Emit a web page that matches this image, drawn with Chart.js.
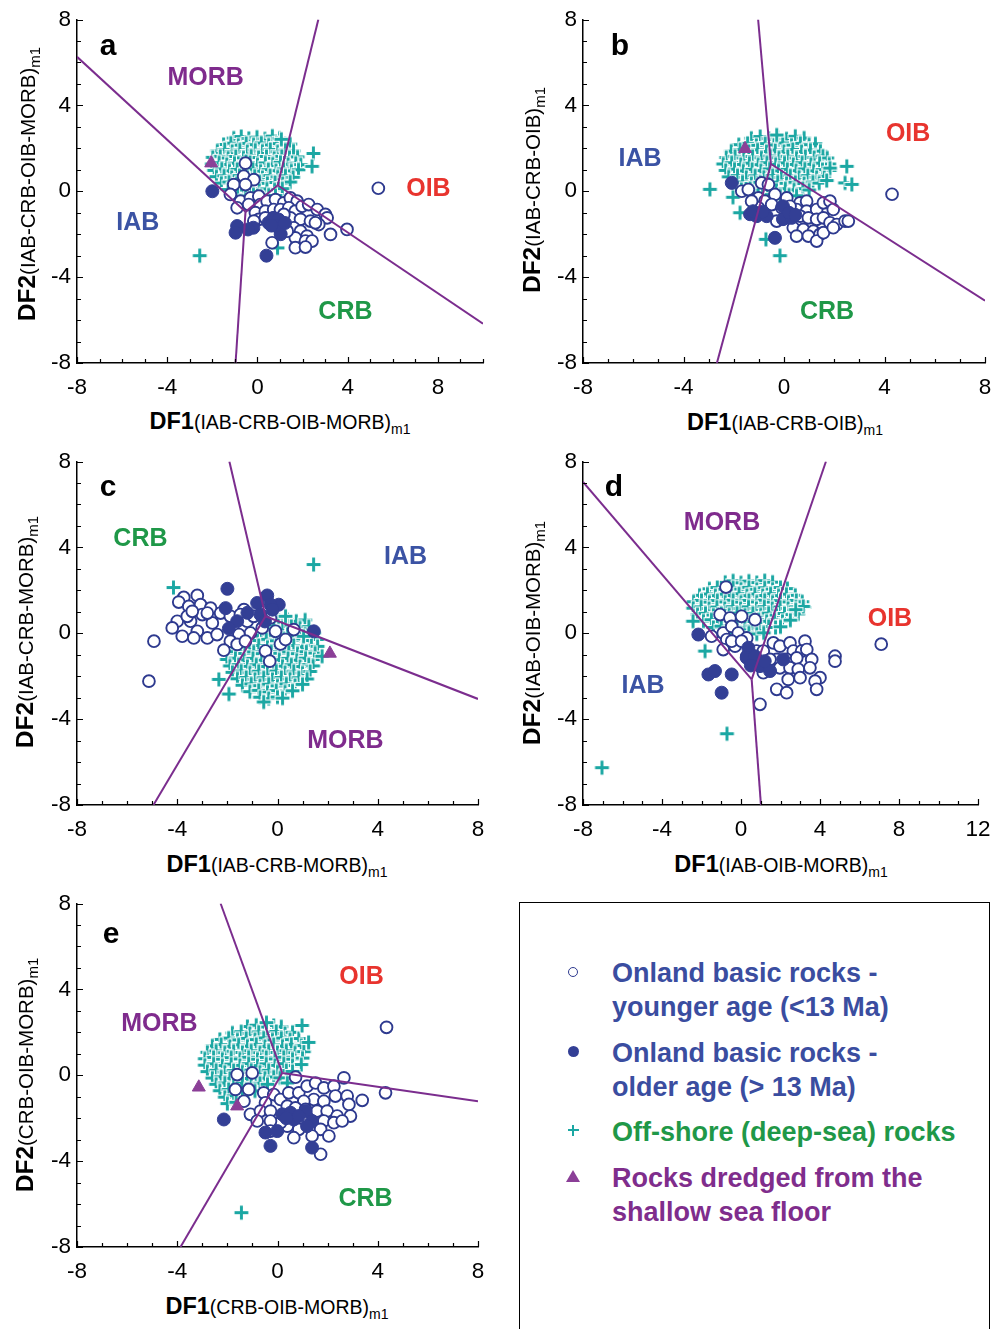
<!DOCTYPE html>
<html>
<head>
<meta charset="utf-8">
<script src="https://cdn.jsdelivr.net/npm/chart.js@4.4.0/dist/chart.umd.min.js"></script>
<style>
  body { margin: 0; background: #fff; font-family: "Liberation Sans", Arial, sans-serif; }
  #page { position: relative; width: 1006px; height: 1329px; overflow: hidden; }
  canvas { position: absolute; }
  .ttl { position: absolute; white-space: nowrap; color: #000; transform: translate(-50%, -50%); }
  .ttl.rot { transform: translate(-50%, -50%) rotate(-90deg); }
  .ttl b { font-size: 23.5px; font-weight: bold; }
  .ttl .p { font-size: 19.5px; }
  .ttl .s { font-size: 14px; position: relative; top: 5px; }
  .ttl.rot b { font-size: 24.5px; }
  .ttl.rot .p { font-size: 20.5px; }
  .ttl.rot .s { font-size: 15px; }
  #legend { position: absolute; left: 519px; top: 902px; width: 469px; height: 460px; border: 1.5px solid #000; }
  .lt { position: absolute; left: 612px; font-weight: bold; font-size: 27px; line-height: 34px; white-space: nowrap; }
  .mk { position: absolute; }
</style>
</head>
<body>
<div id="page">
  <canvas id="pa"></canvas>
  <canvas id="pb"></canvas>
  <canvas id="pc"></canvas>
  <canvas id="pd"></canvas>
  <canvas id="pe"></canvas>

  <div class="ttl" style="left:280px;top:421px"><b>DF1</b><span class="p">(IAB-CRB-OIB-MORB)</span><span class="s">m1</span></div>
  <div class="ttl rot" style="left:27px;top:184px"><b>DF2</b><span class="p">(IAB-CRB-OIB-MORB)</span><span class="s">m1</span></div>
  <div class="ttl" style="left:785px;top:422px"><b>DF1</b><span class="p">(IAB-CRB-OIB)</span><span class="s">m1</span></div>
  <div class="ttl rot" style="left:532px;top:190px"><b>DF2</b><span class="p">(IAB-CRB-OIB)</span><span class="s">m1</span></div>
  <div class="ttl" style="left:277px;top:864px"><b>DF1</b><span class="p">(IAB-CRB-MORB)</span><span class="s">m1</span></div>
  <div class="ttl rot" style="left:25px;top:632px"><b>DF2</b><span class="p">(IAB-CRB-MORB)</span><span class="s">m1</span></div>
  <div class="ttl" style="left:781px;top:864px"><b>DF1</b><span class="p">(IAB-OIB-MORB)</span><span class="s">m1</span></div>
  <div class="ttl rot" style="left:532px;top:633px"><b>DF2</b><span class="p">(IAB-OIB-MORB)</span><span class="s">m1</span></div>
  <div class="ttl" style="left:277px;top:1306px"><b>DF1</b><span class="p">(CRB-OIB-MORB)</span><span class="s">m1</span></div>
  <div class="ttl rot" style="left:25px;top:1075px"><b>DF2</b><span class="p">(CRB-OIB-MORB)</span><span class="s">m1</span></div>

  <div id="legend"></div>
  <div class="mk" style="left:567.5px;top:966.5px;width:8px;height:8px;border:1.5px solid #2e3a8f;border-radius:50%;background:#fff"></div>
  <div class="lt" style="top:956px;color:#3a4da0">Onland basic rocks -<br>younger age (&lt;13 Ma)</div>
  <div class="mk" style="left:567.5px;top:1045.5px;width:11px;height:11px;border-radius:50%;background:#333f95"></div>
  <div class="lt" style="top:1036px;color:#3a4da0">Onland basic rocks -<br>older age (&gt; 13 Ma)</div>
  <div class="mk" style="left:567.5px;top:1128.7px;width:11px;height:2.6px;background:#1ba7a3"></div>
  <div class="mk" style="left:571.7px;top:1124.5px;width:2.6px;height:11px;background:#1ba7a3"></div>
  <div class="lt" style="top:1115px;color:#1f9848">Off-shore (deep-sea) rocks</div>
  <div class="mk" style="left:566px;top:1170px;width:0;height:0;border-left:7px solid transparent;border-right:7px solid transparent;border-bottom:12px solid #8b3f97"></div>
  <div class="lt" style="top:1161px;color:#7f2d8c">Rocks dredged from the<br>shallow sea floor</div>
</div>

<script>
// ---- panel a : DF1/DF2 (IAB-CRB-OIB-MORB) ----
const aTicksX = [-8, -4, 0, 4, 8];
const aTicksY = [-8, -4, 0, 4, 8];
const aOffshore = [
  [-1.05,2.48],[-0.72,2.55],[-0.38,2.46],[-0.02,2.52],[0.33,2.44],[0.66,2.57],[0.98,2.47],
  [-1.5,2.18],[-1.18,2.24],[-0.85,2.15],[-0.5,2.23],[-0.17,2.17],[0.17,2.25],[0.5,2.16],[0.84,2.22],[1.18,2.14],[1.45,2.2],
  [-1.78,1.88],[-1.45,1.95],[-1.12,1.86],[-0.78,1.93],[-0.45,1.85],[-0.1,1.92],[0.22,1.87],[0.57,1.95],[0.9,1.84],[1.24,1.92],[1.6,1.88],
  [-1.98,1.58],[-1.65,1.63],[-1.3,1.55],[-0.96,1.62],[-0.62,1.56],[-0.28,1.64],[0.05,1.57],[0.4,1.62],[0.74,1.54],[1.08,1.63],[1.42,1.57],[1.78,1.6],
  [-2.02,1.27],[-1.7,1.33],[-1.36,1.25],[-1.02,1.31],[-0.68,1.26],[-0.33,1.34],[0.0,1.24],[0.35,1.32],[0.68,1.27],[1.02,1.35],[1.36,1.26],[1.7,1.31],[1.92,1.24],
  [-1.92,0.97],[-1.58,1.04],[-1.24,0.95],[-0.9,1.02],[-0.55,0.96],[-0.2,1.03],[0.14,0.94],[0.48,1.01],[0.82,0.96],[1.16,1.04],[1.5,0.95],[1.82,1.0],
  [-1.82,0.68],[-1.48,0.72],[-1.14,0.65],[-0.8,0.73],[-0.45,0.66],[-0.12,0.71],[0.22,0.64],[0.56,0.73],[0.9,0.67],[1.24,0.72],[1.58,0.65],
  [-1.6,0.38],[-1.26,0.43],[-0.92,0.36],[-0.58,0.42],[-0.24,0.35],[0.1,0.44],[0.44,0.37],[0.78,0.41],[1.12,0.36],[1.45,0.43],
  [-1.3,0.08],[-0.95,0.13],[-0.6,0.06],[-0.26,0.12],[0.08,0.05],[0.42,0.11],[0.76,0.07],[1.1,0.12],
  [-0.88,-0.18],[-0.52,-0.22],[-0.18,-0.16],[0.16,-0.23],[0.5,-0.17],[0.8,-0.2],
  [2.48,1.76],[2.42,1.16],[-2.56,-3.0],[1.06,2.42],[0.89,-2.64]
];
const aYounger = [
  [-0.53,1.31],[-0.61,0.70],[-0.16,0.54],[-1.05,0.31],[-0.53,0.31],[-1.20,-0.15],[-0.75,-0.46],[-0.31,-0.31],
  [0.06,-0.23],[-0.90,-0.77],[-0.39,-0.62],[0.13,-0.62],[0.43,-0.46],[0.80,-0.39],[1.17,-0.54],[1.46,-0.31],
  [1.76,-0.46],[-0.09,-1.0],[0.35,-0.93],[0.72,-0.85],[1.02,-0.85],[1.39,-0.77],[1.68,-0.93],[1.98,-0.70],
  [2.27,-0.62],[2.65,-0.85],[3.01,-1.08],[3.09,-1.24],[1.46,-1.24],[1.91,-1.31],[2.35,-1.39],[2.72,-1.55],
  [0.06,-1.31],[0.35,-1.24],[1.61,-1.70],[1.91,-1.86],[2.20,-2.09],[2.57,-1.47],[3.24,-2.01],[3.97,-1.78],
  [1.68,-2.17],[2.13,-2.32],[2.42,-2.32],[1.68,-2.63],[2.13,-2.60],[0.65,-2.40],[1.32,-1.86],[0.87,-1.55],
  [0.72,-1.24],[1.17,-1.08],[-0.16,-1.39],[5.36,0.14]
];
const aOlder = [
  [-2.0,0.0],[-0.9,-1.62],[-0.97,-1.93],[-0.18,-1.7],[-0.42,-1.78],[0.49,-1.47],[0.7,-1.25],
  [0.94,-1.32],[1.03,-2.0],[0.4,-3.0],[0.8,-1.6],[1.22,-1.48],[0.62,-1.6]
];
const aDredged = [[-2.05,1.31]];
const aBounds = [
  [-8,6.26,-0.53,-0.96],[-0.53,-0.96,-0.97,-8],[-0.53,-0.96,0.9,0.28],[0.9,0.28,2.7,8],[0.9,0.28,10,-6.17]
];
const aFields = [['MORB',-2.3,5.33],['OIB',7.58,0.14],['IAB',-5.3,-1.42],['CRB',3.9,-5.6]];

// ---- panel b : DF1/DF2 (IAB-CRB-OIB) ----
const bTicksX = [-8, -4, 0, 4, 8];
const bTicksY = [-8, -4, 0, 4, 8];
const bOffshore = [
  [-1.3,2.47],[-0.95,2.55],[-0.6,2.45],[-0.25,2.52],[0.1,2.44],[0.45,2.56],[0.8,2.48],
  [-1.8,2.17],[-1.45,2.23],[-1.1,2.14],[-0.75,2.22],[-0.4,2.16],[-0.05,2.25],[0.3,2.15],[0.65,2.23],[1.0,2.17],[1.25,2.21],
  [-2.1,1.87],[-1.75,1.94],[-1.4,1.86],[-1.05,1.93],[-0.7,1.85],[-0.35,1.92],[0.0,1.86],[0.35,1.95],[0.7,1.85],[1.05,1.92],[1.45,1.87],
  [-2.3,1.57],[-1.95,1.63],[-1.6,1.55],[-1.25,1.62],[-0.9,1.56],[-0.55,1.64],[-0.2,1.56],[0.15,1.63],[0.5,1.55],[0.85,1.62],[1.2,1.57],[1.55,1.64],[1.72,1.55],
  [-2.42,1.27],[-2.08,1.33],[-1.72,1.25],[-1.38,1.31],[-1.03,1.24],[-0.68,1.33],[-0.33,1.26],[0.02,1.32],[0.37,1.25],[0.72,1.33],[1.07,1.26],[1.42,1.31],[1.8,1.27],
  [-2.32,0.97],[-1.97,1.03],[-1.62,0.95],[-1.27,1.02],[-0.92,0.96],[-0.57,1.04],[-0.22,0.95],[0.13,1.02],[0.48,0.96],[0.83,1.04],[1.18,0.95],[1.53,1.01],[1.82,0.97],
  [-2.2,0.67],[-1.85,0.73],[-1.5,0.65],[-1.15,0.72],[-0.8,0.66],[-0.45,0.73],[-0.1,0.64],[0.25,0.72],[0.6,0.66],[0.95,0.73],[1.3,0.65],[1.6,0.7],
  [-2.0,0.38],[-1.65,0.43],[-1.3,0.36],[-0.95,0.42],[-0.6,0.35],[-0.25,0.43],[0.1,0.37],[0.45,0.42],[0.8,0.36],[1.15,0.43],[1.4,0.38],
  [-1.7,0.08],[-1.35,0.13],[-1.0,0.06],[-0.65,0.12],[-0.3,0.05],[0.05,0.12],[0.4,0.07],[0.75,0.12],[1.0,0.06],
  [-1.2,-0.18],[-0.85,-0.23],[-0.5,-0.16],[-0.15,-0.22],[0.2,-0.17],[0.5,-0.21],
  [-2.95,0.09],[2.5,1.16],[2.43,0.39],[2.7,0.32],[-0.16,-3.0],[-0.72,-2.24],[-1.75,-1.0],[-2.03,-0.28],
  [-0.29,2.62],[1.83,1.08],[1.7,0.5]
];
const bYounger = [
  [-1.68,0.0],[-1.42,0.08],[-0.89,0.39],[-0.62,0.31],[-1.02,-0.31],[-0.76,-0.46],[-0.36,-0.15],[0.11,-0.31],
  [0.64,-0.54],[0.90,-0.46],[0.50,-0.85],[0.90,-0.93],[1.30,-0.85],[1.57,-0.54],[1.83,-0.46],[1.96,-0.85],
  [-0.49,-0.62],[-0.09,-0.77],[0.24,-0.70],[0.24,-1.24],[0.64,-1.16],[0.97,-1.24],[1.30,-1.31],[1.57,-1.24],
  [1.83,-1.47],[2.10,-1.55],[2.43,-1.39],[2.56,-1.39],[0.37,-1.70],[0.77,-1.78],[1.17,-1.86],[1.43,-2.01],
  [0.50,-2.09],[0.97,-2.09],[1.30,-2.32],[1.57,-1.93],[1.96,-1.70],[-0.29,-1.39],[-1.02,-0.77],[-1.29,-0.46],
  [4.3,-0.14]
];
const bOlder = [
  [-2.08,0.39],[-1.35,-1.07],[-1.09,-1.16],[-0.69,-1.16],[-1.23,-0.93],[-0.04,-0.7],[-0.04,-1.3],
  [0.3,-1.24],[0.2,-1.0],[-0.36,-2.17],[-0.85,-0.95],[0.45,-1.1]
];
const bDredged = [[-1.55,1.98]];
const bBounds = [[-0.52,1.27,-1.03,8],[-0.52,1.27,-2.67,-8],[-0.52,1.27,8,-5.1]];
const bFields = [['IAB',-5.73,1.53],['OIB',4.94,2.69],['CRB',1.71,-5.6]];

// ---- panel c : DF1/DF2 (IAB-CRB-MORB) ----
const cTicksX = [-8, -4, 0, 4, 8];
const cTicksY = [-8, -4, 0, 4, 8];
const cOffshore = [
  [0.05,0.58],[0.4,0.63],[0.75,0.56],[1.1,0.62],
  [-0.5,0.27],[-0.15,0.33],[0.2,0.26],[0.55,0.32],[0.9,0.25],[1.25,0.31],
  [-1.0,-0.03],[-0.65,0.03],[-0.3,-0.04],[0.05,0.02],[0.4,-0.05],[0.75,0.03],[1.1,-0.04],[1.45,0.01],
  [-1.5,-0.33],[-1.15,-0.27],[-0.8,-0.34],[-0.45,-0.28],[-0.1,-0.35],[0.25,-0.27],[0.6,-0.33],[0.95,-0.26],[1.3,-0.34],[1.58,-0.29],
  [-1.8,-0.62],[-1.45,-0.56],[-1.1,-0.64],[-0.75,-0.57],[-0.4,-0.65],[-0.05,-0.56],[0.3,-0.63],[0.65,-0.57],[1.0,-0.64],[1.35,-0.56],[1.6,-0.61],
  [-2.0,-0.92],[-1.65,-0.86],[-1.3,-0.94],[-0.95,-0.87],[-0.6,-0.95],[-0.25,-0.86],[0.1,-0.93],[0.45,-0.87],[0.8,-0.95],[1.15,-0.86],[1.5,-0.92],
  [-2.02,-1.22],[-1.68,-1.16],[-1.33,-1.24],[-0.98,-1.17],[-0.63,-1.25],[-0.28,-1.16],[0.07,-1.23],[0.42,-1.17],[0.77,-1.25],[1.12,-1.16],[1.47,-1.22],
  [-1.9,-1.52],[-1.55,-1.46],[-1.2,-1.54],[-0.85,-1.47],[-0.5,-1.55],[-0.15,-1.46],[0.2,-1.53],[0.55,-1.47],[0.9,-1.55],[1.25,-1.46],[1.42,-1.52],
  [-1.8,-1.82],[-1.45,-1.76],[-1.1,-1.84],[-0.75,-1.77],[-0.4,-1.85],[-0.05,-1.76],[0.3,-1.83],[0.65,-1.77],[1.0,-1.85],[1.3,-1.78],
  [-1.6,-2.12],[-1.25,-2.06],[-0.9,-2.14],[-0.55,-2.07],[-0.2,-2.15],[0.15,-2.06],[0.5,-2.13],[0.85,-2.07],[1.18,-2.13],
  [-1.4,-2.42],[-1.05,-2.36],[-0.7,-2.44],[-0.35,-2.37],[0.0,-2.45],[0.35,-2.36],[0.7,-2.43],[1.0,-2.38],
  [-1.1,-2.72],[-0.75,-2.66],[-0.4,-2.74],[-0.05,-2.67],[0.3,-2.73],[0.6,-2.68],
  [-0.7,-2.98],[-0.35,-3.04],[0.0,-2.97],[0.2,-3.02],
  [-4.15,2.13],[1.44,3.2],[-2.34,-2.15],[-1.94,-2.83],[-0.55,-3.2],[1.78,-1.07],[0.32,0.79],[1.04,-0.14]
];
const cYounger = [
  [-3.74,1.67],[-3.20,1.76],[-3.94,1.45],[-3.54,1.25],[-3.07,1.33],[-2.67,1.17],[-4.0,0.56],[-4.2,0.25],
  [-3.8,-0.14],[-3.47,0.56],[-3.2,0.09],[-3.0,0.87],[-2.6,0.48],[-2.8,-0.22],[-2.41,-0.06],[-3.34,-0.22],
  [-2.27,0.94],[-1.88,0.79],[-1.34,1.10],[-1.48,0.87],[-1.21,0.56],[-1.08,0.01],[-1.54,-0.06],[-0.95,0.79],
  [-1.88,-0.37],[-1.61,-0.52],[-1.28,-0.37],[-2.14,-0.79],[-0.48,-0.83],[-0.31,-1.30],[0.12,-0.50],[-0.08,0.09],
  [0.65,0.17],[0.32,-0.29],[-0.61,0.25],[-0.28,0.71],[-3.6,0.79],[-2.8,0.94],[-3.4,1.02],
  [-4.93,-0.37],[-5.13,-2.23]
];
const cOlder = [
  [-2.0,2.07],[-0.41,1.76],[0.05,1.33],[-0.81,1.41],[-2.07,1.17],[-1.61,0.56],[-1.94,0.22],
  [-0.68,0.87],[1.45,0.09],[-0.28,1.34],[-1.2,0.95],[-0.5,0.55],[-0.2,1.1]
];
const cDredged = [[2.09,-0.94]];
const cBounds = [[-0.48,0.79,-1.92,8],[-0.48,0.79,-4.95,-8],[-0.48,0.79,8,-3.06]];
const cFields = [['CRB',-5.47,4.41],['IAB',5.11,3.57],['MORB',2.71,-4.96]];

// ---- panel d : DF1/DF2 (IAB-OIB-MORB) ----
const dTicksX = [-8, -4, 0, 4, 8, 12];
const dTicksY = [-8, -4, 0, 4, 8];
const dOffshore = [
  [-0.8,2.37],[-0.4,2.44],[0.0,2.35],[0.4,2.43],[0.8,2.36],[1.2,2.45],[1.6,2.38],
  [-1.6,2.07],[-1.2,2.13],[-0.8,2.05],[-0.4,2.12],[0.0,2.06],[0.4,2.14],[0.8,2.05],[1.2,2.12],[1.6,2.06],[2.0,2.13],[2.35,2.08],
  [-2.1,1.77],[-1.7,1.83],[-1.3,1.75],[-0.9,1.82],[-0.5,1.76],[-0.1,1.84],[0.3,1.75],[0.7,1.83],[1.1,1.76],[1.5,1.84],[1.9,1.75],[2.3,1.82],[2.75,1.77],
  [-2.4,1.47],[-2.0,1.53],[-1.6,1.45],[-1.2,1.52],[-0.8,1.46],[-0.4,1.54],[0.0,1.45],[0.4,1.53],[0.8,1.46],[1.2,1.54],[1.6,1.45],[2.0,1.52],[2.4,1.46],[2.8,1.53],[3.1,1.47],
  [-2.42,1.17],[-2.02,1.23],[-1.62,1.15],[-1.22,1.22],[-0.82,1.16],[-0.42,1.24],[-0.02,1.15],[0.38,1.23],[0.78,1.16],[1.18,1.24],[1.58,1.15],[1.98,1.22],[2.38,1.16],[2.78,1.23],[3.2,1.2],
  [-2.2,0.87],[-1.8,0.93],[-1.4,0.85],[-1.0,0.92],[-0.6,0.86],[-0.2,0.94],[0.2,0.85],[0.6,0.93],[1.0,0.86],[1.4,0.94],[1.8,0.85],[2.2,0.92],[2.6,0.87],[2.9,0.9],
  [-1.9,0.57],[-1.5,0.63],[-1.1,0.55],[-0.7,0.62],[-0.3,0.56],[0.1,0.64],[0.5,0.55],[0.9,0.63],[1.3,0.56],[1.7,0.63],[2.1,0.56],[2.5,0.61],
  [-1.4,0.27],[-1.0,0.33],[-0.6,0.25],[-0.2,0.32],[0.2,0.26],[0.6,0.34],[1.0,0.25],[1.4,0.32],[1.75,0.27],[2.0,0.3],
  [-0.8,-0.03],[-0.4,0.03],[0.0,-0.04],[0.4,0.02],[0.8,-0.03],[1.15,0.02],
  [-1.82,-0.83],[-7.04,-6.26],[-0.71,-4.68],[3.15,1.25],[2.77,1.1],[-2.43,0.56]
];
const dYounger = [
  [-0.76,2.15],[-1.06,0.87],[-0.56,0.71],[0.03,0.79],[0.71,0.63],[-1.49,-0.14],[-0.90,0.01],[-0.47,0.32],
  [-0.14,0.01],[0.29,-0.22],[-0.72,-0.29],[-0.30,-0.60],[-0.90,-0.76],[-0.47,-0.37],[0.03,-0.37],[0.79,-0.83],
  [1.13,-0.83],[1.64,-0.45],[1.97,-0.60],[2.48,-0.45],[3.24,-0.37],[2.65,-0.83],[3.07,-0.83],[3.33,-0.76],
  [3.58,-1.22],[2.31,-1.22],[2.82,-1.15],[1.81,-1.22],[1.97,-1.61],[2.48,-1.61],[2.90,-1.68],[3.49,-1.61],
  [4.0,-2.07],[3.75,-2.23],[2.39,-2.15],[2.99,-2.07],[1.81,-2.61],[2.31,-2.77],[3.83,-2.61],[4.76,-1.07],
  [4.76,-1.30],[0.96,-3.31],[1.47,-1.22],[1.13,-1.84],[0.71,-1.30],[0.29,-1.07],[7.1,-0.51]
];
const dOlder = [
  [-2.16,-0.06],[-1.65,-1.92],[-1.32,-1.76],[-0.47,-1.92],[-0.98,-2.77],[0.37,-0.68],[0.29,-1.14],
  [0.96,-1.53],[1.47,-1.76],[2.14,-1.22],[0.71,-1.07],[0.5,-1.5],[1.2,-1.3]
];
const dDredged = [];
const dBounds = [[0.54,-2.15,-8,7.05],[0.54,-2.15,4.3,8],[0.54,-2.15,1.01,-8]];
const dFields = [['MORB',-0.96,5.19],['OIB',7.54,0.7],['IAB',-4.96,-2.41]];

// ---- panel e : DF1/DF2 (CRB-OIB-MORB) ----
const eTicksX = [-8, -4, 0, 4, 8];
const eTicksY = [-8, -4, 0, 4, 8];
const eOffshore = [
  [-1.2,2.27],[-0.85,2.33],[-0.5,2.25],[-0.15,2.32],[0.15,2.26],
  [-1.8,1.97],[-1.45,2.03],[-1.1,1.95],[-0.75,2.02],[-0.4,1.96],[-0.05,2.04],[0.3,1.95],[0.6,2.0],
  [-2.3,1.67],[-1.95,1.73],[-1.6,1.65],[-1.25,1.72],[-0.9,1.66],[-0.55,1.74],[-0.2,1.65],[0.15,1.73],[0.5,1.66],[0.85,1.71],
  [-2.6,1.37],[-2.25,1.43],[-1.9,1.35],[-1.55,1.42],[-1.2,1.36],[-0.85,1.44],[-0.5,1.35],[-0.15,1.43],[0.2,1.36],[0.55,1.44],[0.95,1.38],
  [-2.8,1.07],[-2.45,1.13],[-2.1,1.05],[-1.75,1.12],[-1.4,1.06],[-1.05,1.14],[-0.7,1.05],[-0.35,1.13],[0.0,1.06],[0.35,1.14],[0.7,1.05],[1.05,1.1],
  [-2.9,0.77],[-2.55,0.83],[-2.2,0.75],[-1.85,0.82],[-1.5,0.76],[-1.15,0.84],[-0.8,0.75],[-0.45,0.83],[-0.1,0.76],[0.25,0.84],[0.6,0.75],[1.0,0.8],
  [-2.9,0.47],[-2.55,0.53],[-2.2,0.45],[-1.85,0.52],[-1.5,0.46],[-1.15,0.54],[-0.8,0.45],[-0.45,0.53],[-0.1,0.46],[0.25,0.54],[0.6,0.45],[0.95,0.5],
  [-2.8,0.17],[-2.45,0.23],[-2.1,0.15],[-1.75,0.22],[-1.4,0.16],[-1.05,0.24],[-0.7,0.15],[-0.35,0.23],[0.0,0.16],[0.35,0.22],[0.6,0.18],
  [-2.6,-0.13],[-2.25,-0.07],[-1.9,-0.14],[-1.55,-0.08],[-1.2,-0.15],[-0.85,-0.07],[-0.5,-0.13],[-0.15,-0.08],[0.1,-0.12],
  [-2.45,-0.42],[-2.1,-0.36],[-1.75,-0.44],[-1.4,-0.37],[-1.05,-0.45],[-0.7,-0.37],[-0.4,-0.42],
  [-2.3,-0.72],[-1.95,-0.66],[-1.6,-0.74],[-1.25,-0.67],[-0.9,-0.73],
  [-2.1,-1.02],[-1.75,-0.96],[-1.4,-1.04],
  [-2.0,-1.32],[-1.65,-1.26],
  [0.98,2.32],[1.24,1.53],[-0.44,2.45],[-1.44,-6.4],[0.39,-0.36]
];
const eYounger = [
  [-1.61,0.03],[-1.01,0.11],[-1.68,-0.66],[-1.15,-0.66],[-1.34,-1.21],[-1.08,-1.82],[-0.55,-0.82],[-0.15,-0.90],
  [-0.48,-1.28],[-0.68,-1.67],[-0.28,-1.67],[0.12,-1.13],[0.45,-0.82],[0.85,-0.82],[0.72,-0.09],[1.18,-0.51],
  [1.52,-0.36],[1.85,-0.59],[2.25,-0.51],[2.65,-0.12],[2.31,-0.97],[2.78,-0.97],[3.38,-1.17],[2.85,-1.36],
  [1.45,-1.13],[1.05,-1.21],[1.85,-1.21],[0.39,-1.44],[0.72,-1.52],[1.12,-1.59],[1.58,-1.67],[1.98,-1.67],
  [2.38,-1.90],[2.91,-1.90],[1.85,-2.13],[2.25,-2.21],[2.58,-2.13],[1.72,-2.52],[2.05,-2.83],[0.85,-2.52],
  [0.39,-2.37],[0.12,-2.21],[1.72,-3.68],[1.38,-2.83],[-0.81,-2.13],[-0.28,-2.13],[4.31,-0.82],[-0.28,-2.60],
  [0.65,-2.91],[4.35,2.23]
];
const eOlder = [
  [-2.14,-2.06],[-0.48,-2.67],[-0.28,-3.29],[-0.01,-2.6],[0.19,-1.82],[0.52,-1.75],[0.65,-2.06],
  [1.12,-1.67],[1.38,-2.13],[1.38,-3.37],[1.18,-2.37],[0.85,-1.9],[0.35,-2.0]
];
const eDredged = [[-3.14,-0.56],[-1.61,-1.44]];
const eBounds = [[0.19,0.11,-2.27,8],[0.19,0.11,-3.87,-8],[0.19,0.11,8,-1.21]];
const eFields = [['OIB',3.35,4.64],['MORB',-4.71,2.41],['CRB',3.51,-5.7]];

// ---- styling ----
const FONT = '"Liberation Sans", Arial, sans-serif';
const fieldColors = { MORB: '#7f2b8d', OIB: '#e8342e', IAB: '#3b53a4', CRB: '#1f9848' };
const navy = '#2e3a8f';
const navyFill = '#333f95';
const teal = '#1ba7a3';
const purple = '#8b3f97';
const lineColor = '#7b2d8e';

// plus marker with thin white edge so overlapping crosses stay separate
const plusMarker = (function () {
  const c = document.createElement('canvas');
  c.width = 17; c.height = 17;
  const g = c.getContext('2d');
  g.strokeStyle = '#fff'; g.lineWidth = 5;
  g.beginPath(); g.moveTo(0.6, 8.5); g.lineTo(16.4, 8.5); g.moveTo(8.5, 0.6); g.lineTo(8.5, 16.4); g.stroke();
  g.strokeStyle = teal; g.lineWidth = 2.9;
  g.beginPath(); g.moveTo(1.6, 8.5); g.lineTo(15.4, 8.5); g.moveTo(8.5, 1.6); g.lineTo(8.5, 15.4); g.stroke();
  return c;
})();

const toXY = arr => arr.map(p => ({ x: p[0], y: p[1] }));

// inward ticks, field names and panel letter
const panelDecor = {
  id: 'panelDecor',
  afterDraw(chart, args, opts) {
    const { ctx, chartArea, scales: { x, y } } = chart;
    ctx.save();
    ctx.strokeStyle = '#000';
    ctx.lineWidth = 1.2;
    ctx.beginPath();
    for (let v = Math.ceil(x.min); v <= x.max; v++) {
      const px = Math.round(x.getPixelForValue(v)) + 0.5;
      const len = v % 4 === 0 ? 6 : 4;
      ctx.moveTo(px, chartArea.bottom); ctx.lineTo(px, chartArea.bottom - len);
    }
    for (let v = Math.ceil(y.min); v <= y.max; v++) {
      const py = Math.round(y.getPixelForValue(v)) + 0.5;
      const len = v % 4 === 0 ? 6 : 4;
      ctx.moveTo(chartArea.left, py); ctx.lineTo(chartArea.left + len, py);
    }
    ctx.stroke();

    ctx.textAlign = 'center';
    ctx.textBaseline = 'middle';
    ctx.font = 'bold 25px ' + FONT;
    opts.fields.forEach(f => {
      ctx.fillStyle = fieldColors[f[0]];
      ctx.fillText(f[0], x.getPixelForValue(f[1]), y.getPixelForValue(f[2]) + 1);
    });
    ctx.font = 'bold 30px ' + FONT;
    ctx.fillStyle = '#000';
    ctx.fillText(opts.letter, chartArea.left + opts.letterAt[0], chartArea.top + opts.letterAt[1]);
    ctx.restore();
  }
};

function makePanel(id, p) {
  const cv = document.getElementById(id);
  const [cl, ct, cw, ch] = p.canvas;
  const [al, at, ar, ab] = p.area;
  cv.width = cw; cv.height = ch;
  cv.style.left = cl + 'px'; cv.style.top = ct + 'px';
  cv.style.width = cw + 'px'; cv.style.height = ch + 'px';

  const datasets = p.bounds.map(s => ({
    data: [{ x: s[0], y: s[1] }, { x: s[2], y: s[3] }],
    showLine: true, borderColor: lineColor, borderWidth: 2, pointRadius: 0, fill: false, order: 0
  }));
  datasets.push({
    data: toXY(p.dredged), pointStyle: 'triangle', pointRadius: 7.5,
    backgroundColor: purple, borderColor: purple, borderWidth: 1, order: 1
  });
  datasets.push({
    data: toXY(p.older), pointStyle: 'circle', pointRadius: 6.5,
    backgroundColor: navyFill, borderColor: navyFill, borderWidth: 1, order: 2
  });
  datasets.push({
    data: toXY(p.younger), pointStyle: 'circle', pointRadius: 5.9,
    backgroundColor: '#fff', borderColor: navy, borderWidth: 1.9, order: 3
  });
  datasets.push({
    data: toXY(p.offshore), pointStyle: plusMarker, pointRadius: 8, order: 4
  });

  const tickFont = { size: 22.5, family: FONT };
  new Chart(cv, {
    type: 'scatter',
    data: { datasets: datasets },
    options: {
      responsive: false,
      animation: false,
      events: [],
      layout: { padding: { top: at - ct, right: cl + cw - ar, left: 0, bottom: 0 } },
      plugins: {
        legend: { display: false },
        tooltip: { enabled: false },
        panelDecor: { fields: p.fields, letter: p.letter, letterAt: p.letterAt }
      },
      scales: {
        x: {
          type: 'linear', min: p.xMin, max: p.xMax,
          grid: { display: false, drawTicks: false },
          border: { display: true, color: '#000', width: 1.5 },
          ticks: { color: '#000', font: tickFont, padding: 11, maxRotation: 0 },
          afterBuildTicks: ax => { ax.ticks = p.xTicks.map(v => ({ value: v })); },
          afterFit: ax => { ax.height = ct + ch - ab; }
        },
        y: {
          type: 'linear', min: p.yMin, max: p.yMax,
          grid: { display: false, drawTicks: false },
          border: { display: true, color: '#000', width: 1.5 },
          ticks: { color: '#000', font: tickFont, padding: 6 },
          afterBuildTicks: ax => { ax.ticks = p.yTicks.map(v => ({ value: v })); },
          afterFit: ax => { ax.width = al - cl; }
        }
      }
    },
    plugins: [panelDecor]
  });
}

makePanel('pa', {
  canvas: [0, 0, 500, 400], area: [77, 18, 483, 363],
  xMin: -8, xMax: 10, yMin: -8, yMax: 8, xTicks: aTicksX, yTicks: aTicksY,
  offshore: aOffshore, younger: aYounger, older: aOlder, dredged: aDredged,
  bounds: aBounds, fields: aFields, letter: 'a', letterAt: [31, 27]
});
makePanel('pb', {
  canvas: [503, 0, 500, 400], area: [583, 18, 985, 363],
  xMin: -8, xMax: 8, yMin: -8, yMax: 8, xTicks: bTicksX, yTicks: bTicksY,
  offshore: bOffshore, younger: bYounger, older: bOlder, dredged: bDredged,
  bounds: bBounds, fields: bFields, letter: 'b', letterAt: [37, 27]
});
makePanel('pc', {
  canvas: [0, 442, 500, 400], area: [77, 460, 478, 805],
  xMin: -8, xMax: 8, yMin: -8, yMax: 8, xTicks: cTicksX, yTicks: cTicksY,
  offshore: cOffshore, younger: cYounger, older: cOlder, dredged: cDredged,
  bounds: cBounds, fields: cFields, letter: 'c', letterAt: [31, 26]
});
makePanel('pd', {
  canvas: [503, 442, 500, 400], area: [583, 460, 978, 805],
  xMin: -8, xMax: 12, yMin: -8, yMax: 8, xTicks: dTicksX, yTicks: dTicksY,
  offshore: dOffshore, younger: dYounger, older: dOlder, dredged: dDredged,
  bounds: dBounds, fields: dFields, letter: 'd', letterAt: [31, 26]
});
makePanel('pe', {
  canvas: [0, 884, 500, 400], area: [77, 902, 478, 1247],
  xMin: -8, xMax: 8, yMin: -8, yMax: 8, xTicks: eTicksX, yTicks: eTicksY,
  offshore: eOffshore, younger: eYounger, older: eOlder, dredged: eDredged,
  bounds: eBounds, fields: eFields, letter: 'e', letterAt: [34, 31]
});
</script>
</body>
</html>
